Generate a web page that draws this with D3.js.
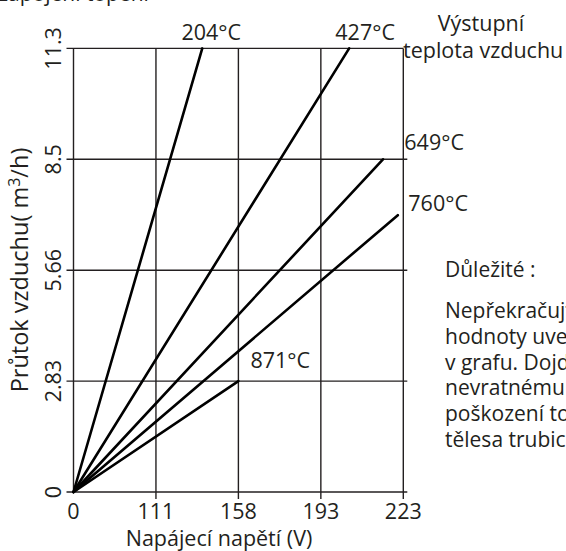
<!DOCTYPE html>
<html>
<head>
<meta charset="utf-8">
<script src="https://cdn.jsdelivr.net/npm/d3@7"></script>
<style>
  body { margin: 0; background: #fff; }
  svg { display: block; }
  text { font-family: "Open Sans", sans-serif; fill: #231f20; }
</style>
</head>
<body>
<div id="chart"></div>
<script>
// tick values shown on the axes (spaced evenly on the sheet)
const xTicks = [0, 111, 158, 193, 223];
const yTicks = [0, 2.83, 5.66, 8.5, 11.3];
const yTickLabels = ['0', '2.83', '5.66', '8.5', '11.3'];

// outlet temperature lines, all start at 0 V / 0 m3/h
const seriesNames = ['204°C', '427°C', '649°C', '760°C', '871°C'];
const endVoltage = [137.4, 203.3, 215.6, 221, 158];
const endFlow = [11.3, 11.3, 8.5, 7.07, 2.83];

const noteLines = ['Nepřekračujte', 'hodnoty uvedené', 'v grafu. Dojde k',
    'nevratnému', 'poškození topného', 'tělesa trubice.'];

const width = 566, height = 551;
const plotLeft = 73.5, plotRight = 403.3, plotTop = 48.4, plotBottom = 492;

const svg = d3.select('#chart').append('svg')
    .attr('width', width)
    .attr('height', height);

const x = d3.scaleLinear()
    .domain(xTicks)
    .range(xTicks.map((d, i) => plotLeft + i * (plotRight - plotLeft) / 4));

const y = d3.scaleLinear()
    .domain(yTicks)
    .range(yTicks.map((d, i) => plotBottom - i * (plotBottom - plotTop) / 4));

const grid = svg.append('g')
    .attr('stroke', '#231f20')
    .attr('stroke-width', 1.4);

// horizontal lines (stick out a bit as tick marks)
grid.selectAll('.h')
    .data(yTicks)
    .enter()
    .append('line')
    .attr('x1', plotLeft - 7)
    .attr('x2', (d, i) => i === 4 ? plotRight : plotRight + 4)
    .attr('y1', d => y(d))
    .attr('y2', d => y(d));

// vertical lines
grid.selectAll('.v')
    .data(xTicks)
    .enter()
    .append('line')
    .attr('x1', d => x(d))
    .attr('x2', d => x(d))
    .attr('y1', y(11.3))
    .attr('y2', (d, i) => i === 0 ? plotBottom : plotBottom + 7);

// tick labels
svg.selectAll('.xl')
    .data(xTicks)
    .enter()
    .append('text')
    .attr('x', d => x(d))
    .attr('y', 519)
    .attr('text-anchor', 'middle')
    .style('font-size', '21.5px')
    .text(d => d);

svg.selectAll('.yl')
    .data(yTicks)
    .enter()
    .append('text')
    .attr('transform', d => `translate(61,${y(d)}) rotate(-90)`)
    .attr('text-anchor', 'middle')
    .style('font-size', '21.5px')
    .text((d, i) => yTickLabels[i]);

// axis titles
svg.append('text')
    .attr('x', 219)
    .attr('y', 546)
    .attr('text-anchor', 'middle')
    .style('font-size', '21.5px')
    .text('Napájecí napětí (V)');

const yTitle = svg.append('text')
    .attr('transform', 'translate(28,270) rotate(-90)')
    .attr('text-anchor', 'middle')
    .style('font-size', '23.5px');
yTitle.append('tspan').text('Průtok vzduchu( m');
yTitle.append('tspan').attr('dy', -8).style('font-size', '16px').text('3');
yTitle.append('tspan').attr('dy', 8).text('/h)');

// data lines
const line = d3.line()
    .x(d => x(d[0]))
    .y(d => y(d[1]));

svg.selectAll('.series')
    .data(seriesNames)
    .enter()
    .append('path')
    .attr('d', (d, i) => line([[0, 0], [endVoltage[i], endFlow[i]]]))
    .attr('fill', 'none')
    .attr('stroke', '#000')
    .attr('stroke-width', 2.6)
    .attr('stroke-linecap', 'round');

// series labels: offsets from line ends
const labelPlace = [
    { dx: 9, dy: -8, anchor: 'middle' },
    { dx: 16, dy: -8, anchor: 'middle' },
    { at: plotRight + 1, dy: -9, anchor: 'start' },
    { at: plotRight + 5, dy: -4, anchor: 'start' },
    { dx: 12, dy: -13, anchor: 'start' }
];

svg.selectAll('.sl')
    .data(seriesNames)
    .enter()
    .append('text')
    .attr('x', (d, i) => labelPlace[i].at !== undefined ? labelPlace[i].at : x(endVoltage[i]) + labelPlace[i].dx)
    .attr('y', (d, i) => y(endFlow[i]) + labelPlace[i].dy)
    .attr('text-anchor', (d, i) => labelPlace[i].anchor)
    .style('font-size', '21.5px')
    .text(d => d);

// legend title on the right
svg.append('text')
    .attr('x', 481)
    .attr('y', 31)
    .attr('text-anchor', 'middle')
    .style('font-size', '21.5px')
    .text('Výstupní');
svg.append('text')
    .attr('x', 403)
    .attr('y', 58)
    .style('font-size', '21.5px')
    .text('teplota vzduchu');

// note
svg.append('text')
    .attr('x', 445)
    .attr('y', 277)
    .style('font-size', '21px')
    .text('Důležité :');

svg.selectAll('.note')
    .data(noteLines)
    .enter()
    .append('text')
    .attr('x', 445)
    .attr('y', (d, i) => 318 + i * 25.8)
    .style('font-size', '21px')
    .text(d => d);

// cut-off heading at the very top
svg.append('text')
    .attr('x', -4)
    .attr('y', 1)
    .style('font-size', '21px')
    .text('Zapojení topení');
</script>
</body>
</html>
